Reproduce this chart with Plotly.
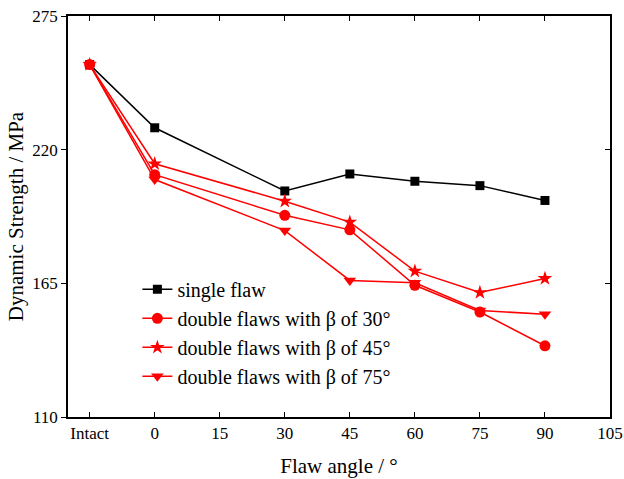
import plotly.graph_objects as go

x_vals = [-15, 0, 30, 45, 60, 75, 90]
tick_vals = [-15, 0, 15, 30, 45, 60, 75, 90, 105]
tick_text = ["Intact", "0", "15", "30", "45", "60", "75", "90", "105"]

single_flaw = [255, 229, 203, 210, 207, 205.2, 199.1]
beta30 = [255, 209.7, 193, 187, 164.2, 153.2, 139.3]
beta45 = [255, 214.2, 198.8, 190.2, 170, 161.2, 167]
beta75 = [255, 207.7, 186.7, 166.2, 165.2, 153.8, 152.3]

names = ["single flaw", "double flaws with β of 30°",
         "double flaws with β of 45°", "double flaws with β of 75°"]

FONT = "Liberation Serif"

fig = go.Figure()
series = [
    (single_flaw, names[0], "black", "square", 9),
    (beta30, names[1], "#ff0000", "circle", 11),
    (beta45, names[2], "#ff0000", "star", 11),
    (beta75, names[3], "#ff0000", "triangle-down", 11),
]
for ys, nm, col, sym, sz in series:
    fig.add_trace(go.Scatter(
        x=x_vals, y=ys, name=nm, mode="lines+markers",
        line=dict(color=col, width=1.5),
        marker=dict(symbol=sym, size=sz, color=col, line=dict(width=0)),
    ))

# invisible trace for right-side inward ticks
fig.add_trace(go.Scatter(x=[x_vals[0]], y=[single_flaw[0]], yaxis="y2",
                         showlegend=False, mode="markers",
                         marker=dict(opacity=0), hoverinfo="skip"))

fig.update_layout(
    width=624, height=479,
    margin=dict(l=68, r=14, t=16, b=62),
    paper_bgcolor="white", plot_bgcolor="white",
    font=dict(family=FONT, color="black", size=17),
    xaxis=dict(
        range=[-20, 105], tickvals=tick_vals, ticktext=tick_text,
        ticks="inside", ticklen=5, tickwidth=1.2, tickcolor="black",
        showline=True, linecolor="black", linewidth=1.5, mirror="ticks",
        showgrid=False, zeroline=False, automargin=False,
        tickfont=dict(family=FONT, size=17),
        title=dict(text="Flaw angle / °", font=dict(family=FONT, size=21), standoff=16),
    ),
    yaxis=dict(
        range=[110, 275], tickvals=[110, 165, 220, 275],
        ticks="outside", ticklen=5, tickwidth=1.2, tickcolor="black",
        showline=True, linecolor="black", linewidth=1.5, mirror=True,
        showgrid=False, zeroline=False, automargin=False,
        tickfont=dict(family=FONT, size=17),
        title=dict(text="Dynamic Strength / MPa", font=dict(family=FONT, size=21), standoff=3),
    ),
    yaxis2=dict(
        range=[110, 275], tickvals=[110, 165, 220, 275], overlaying="y", side="right",
        ticks="inside", ticklen=5, tickwidth=1.2, tickcolor="black",
        showticklabels=False, showgrid=False, zeroline=False, showline=False,
        automargin=False,
    ),
    legend=dict(
        x=0.128, y=0.367, xanchor="left", yanchor="top",
        bgcolor="rgba(0,0,0,0)", font=dict(family=FONT, size=20),
        tracegroupgap=0, itemwidth=30,
    ),
    showlegend=True,
)

fig.write_html("out.html")
